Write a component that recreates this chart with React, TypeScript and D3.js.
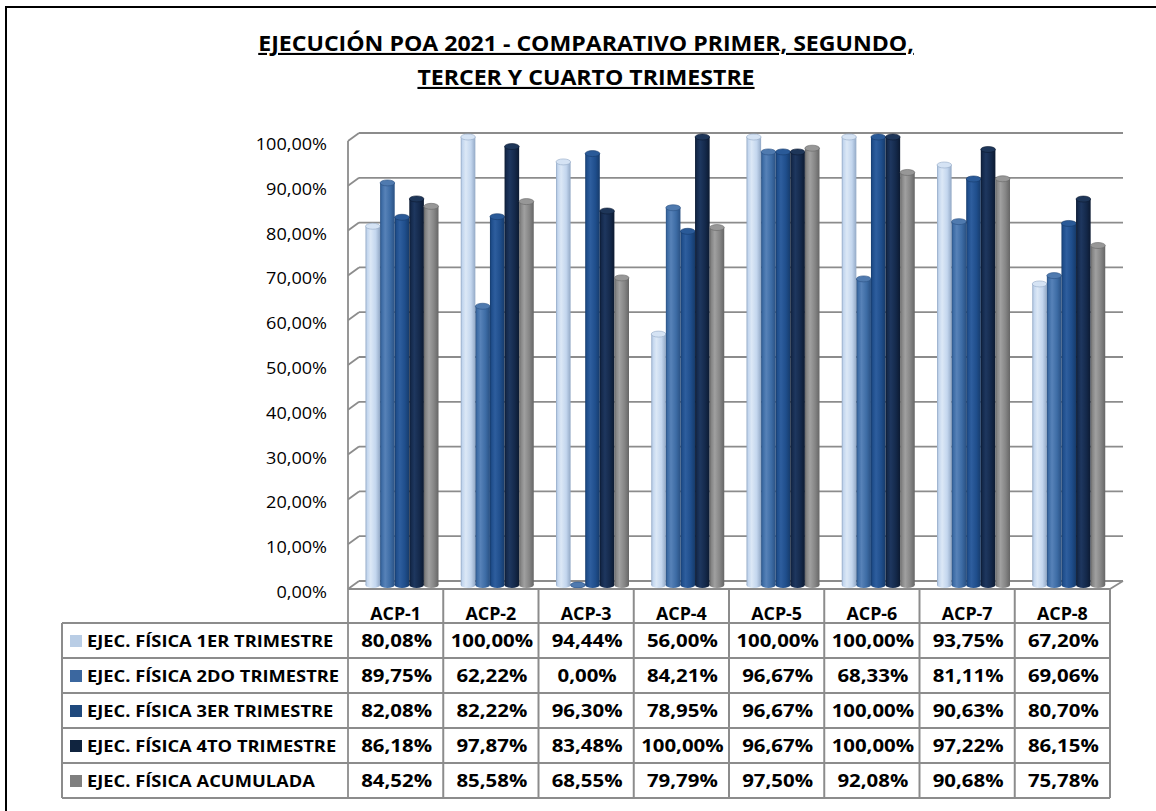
import React from "react";
import * as d3 from "d3";

const categories = ["ACP-1", "ACP-2", "ACP-3", "ACP-4", "ACP-5", "ACP-6", "ACP-7", "ACP-8"];
const seriesNames = [
  "EJEC. FÍSICA 1ER TRIMESTRE",
  "EJEC. FÍSICA 2DO TRIMESTRE",
  "EJEC. FÍSICA 3ER TRIMESTRE",
  "EJEC. FÍSICA 4TO TRIMESTRE",
  "EJEC. FÍSICA ACUMULADA",
];
const primer = [80.08, 100.0, 94.44, 56.0, 100.0, 100.0, 93.75, 67.2];
const segundo = [89.75, 62.22, 0.0, 84.21, 96.67, 68.33, 81.11, 69.06];
const tercer = [82.08, 82.22, 96.3, 78.95, 96.67, 100.0, 90.63, 80.7];
const cuarto = [86.18, 97.87, 83.48, 100.0, 96.67, 100.0, 97.22, 86.15];
const acumulada = [84.52, 85.58, 68.55, 79.79, 97.5, 92.08, 90.68, 75.78];
const yTicks = [0, 10, 20, 30, 40, 50, 60, 70, 80, 90, 100];
const titleLines = ["EJECUCIÓN POA 2021 - COMPARATIVO PRIMER, SEGUNDO,", "TERCER Y CUARTO TRIMESTRE"];

const seriesValues = [primer, segundo, tercer, cuarto, acumulada];
const palette = [
  { base: "#C3D6EE", light: "#DCE8F6", dark: "#93A9C6", top: "#D5E3F4", swatch: "#B9CDE5" },
  { base: "#3D6CA5", light: "#5782B8", dark: "#2A5183", top: "#4F7AAF", swatch: "#3B679F" },
  { base: "#1F4E8C", light: "#2E5E9E", dark: "#163B6B", top: "#2A5A98", swatch: "#1F497D" },
  { base: "#14294B", light: "#1E375F", dark: "#0C1A31", top: "#1E3659", swatch: "#10243F" },
  { base: "#858585", light: "#A0A0A0", dark: "#666666", top: "#979797", swatch: "#7F7F7F" },
];

const fmt = (v: number) => v.toFixed(2).replace(".", ",") + "%";
const FONT = "'Open Sans', Lato, sans-serif";

function T({ x, y, anchor = "middle", size = 16, weight = 700, sx = 1.15, children, deco }: any) {
  return (
    <text
      transform={`translate(${x},${y}) scale(${sx},1)`}
      textAnchor={anchor}
      fontFamily={FONT}
      fontSize={size}
      fontWeight={weight}
      fill="#000"
      textDecoration={deco}
    >
      {children}
    </text>
  );
}

export default function App() {
  const W = 1156;
  const H = 811;
  const x0 = 348;
  const x1 = 1110;
  const depthX = 11;
  const depthY = -8;
  const y = d3.scaleLinear().domain([0, 100]).range([589, 141]);
  const xBand = d3.scaleBand<string>().domain(categories).range([x0, x1]).paddingInner(0).paddingOuter(0);
  const bw = xBand.bandwidth();
  const inner = d3.scaleBand<number>().domain(d3.range(seriesValues.length)).range([12, 85]);
  const midDX = depthX / 2;
  const midDY = depthY / 2;
  const r = inner.bandwidth() / 2;
  const ry = 3;

  const rowH = 35;
  const tableTop = y(0);
  const headerBottom = tableTop + 34;
  const rows = d3.range(seriesNames.length + 1).map((i) => headerBottom + i * rowH);
  const legendLeft = 62;
  const gridColor = "#8C8C8C";

  return (
    <svg width={W} height={H} style={{ position: "absolute", left: 0, top: 0, background: "#fff" }}>
      <defs>
        {palette.map((p, i) => (
          <linearGradient key={i} id={`cyl${i}`} x1="0" x2="1" y1="0" y2="0">
            <stop offset="0%" stopColor={p.dark} />
            <stop offset="12%" stopColor={p.base} />
            <stop offset="35%" stopColor={p.light} />
            <stop offset="70%" stopColor={p.base} />
            <stop offset="100%" stopColor={p.dark} />
          </linearGradient>
        ))}
      </defs>
      <rect x={0} y={0} width={W} height={H} fill="#fff" />
      <rect x={6} y={7} width={W + 20} height={H + 20} fill="none" stroke="#000" strokeWidth={2} />

      {titleLines.map((t, i) => (
        <T key={i} x={586} y={51 + i * 34} size={21} sx={1.1} deco="underline">
          {t}
        </T>
      ))}

      {yTicks.map((t) => (
        <g key={t}>
          <line x1={x0 + depthX} x2={x1 + 13} y1={y(t) + depthY} y2={y(t) + depthY} stroke={gridColor} strokeWidth={1.8} />
          <line x1={x0} x2={x0 + depthX} y1={y(t)} y2={y(t) + depthY} stroke={gridColor} strokeWidth={1.8} />
          <T x={327} y={y(t) + 9} anchor="end" size={16} weight={400} sx={1.13}>
            {fmt(t)}
          </T>
        </g>
      ))}
      <line x1={x0} x2={x0} y1={y(100)} y2={rows[rows.length - 1]} stroke={gridColor} strokeWidth={1.8} />
      <line x1={x1 + 13} x2={x1} y1={y(0) + depthY} y2={y(0)} stroke={gridColor} strokeWidth={1.8} />

      {categories.map((c, ci) =>
        seriesValues.map((vals, si) => {
          const cx = (xBand(c) as number) + (inner(si) as number) + r + midDX;
          const yb = y(0) + midDY;
          const yt = y(vals[ci]) + midDY;
          const p = palette[si];
          return (
            <g key={`${c}-${si}`}>
              <ellipse cx={cx} cy={yb} rx={r} ry={ry} fill={`url(#cyl${si})`} />
              {yb - yt > 0.5 && <rect x={cx - r} y={yt} width={2 * r} height={yb - yt} fill={`url(#cyl${si})`} />}
              <ellipse cx={cx} cy={yt} rx={r} ry={ry} fill={p.top} stroke={p.dark} strokeWidth={0.6} />
            </g>
          );
        })
      )}

      <line x1={x0} x2={x1} y1={tableTop} y2={tableTop} stroke={gridColor} strokeWidth={2} />
      {rows.map((ry2, i) => (
        <line key={i} x1={legendLeft} x2={x1} y1={ry2} y2={ry2} stroke={gridColor} strokeWidth={2} />
      ))}
      <line x1={legendLeft} x2={legendLeft} y1={rows[0]} y2={rows[rows.length - 1]} stroke={gridColor} strokeWidth={2} />
      {categories.map((c) => (
        <line
          key={c}
          x1={(xBand(c) as number) + bw}
          x2={(xBand(c) as number) + bw}
          y1={tableTop}
          y2={rows[rows.length - 1]}
          stroke={gridColor}
          strokeWidth={2}
        />
      ))}
      {categories.map((c) => (
        <T key={c} x={(xBand(c) as number) + bw / 2} y={tableTop + 31} size={17} sx={1.05}>
          {c}
        </T>
      ))}
      {seriesNames.map((name, si) => (
        <g key={name}>
          <rect x={70} y={rows[si] + 12} width={12} height={12} fill={palette[si].swatch} />
          <T x={87} y={rows[si] + 24} anchor="start" size={16.5} sx={1.11}>
            {name}
          </T>
          {categories.map((c, ci) => (
            <T key={c} x={(xBand(c) as number) + bw / 2 + 1} y={rows[si] + 24} size={17} sx={1.2}>
              {fmt(seriesValues[si][ci])}
            </T>
          ))}
        </g>
      ))}
    </svg>
  );
}
